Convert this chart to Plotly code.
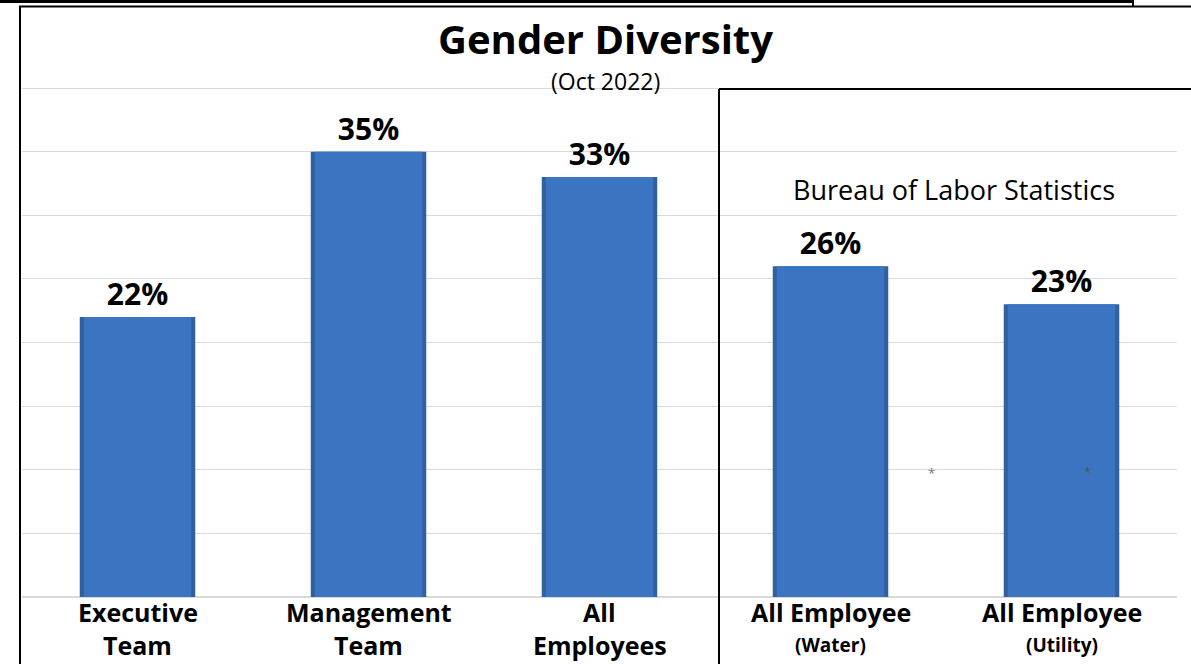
import plotly.graph_objects as go

categories = ["Executive Team", "Management Team", "All Employees", "All Employee (Water)", "All Employee (Utility)"]
values = [22, 35, 33, 26, 23]
label_line1 = ["Executive", "Management", "All", "All Employee", "All Employee"]
label_line2 = ["Team", "Team", "Employees", "(Water)", "(Utility)"]
line2_small = [False, False, False, True, True]
grid_values = [5, 10, 15, 20, 25, 30, 35, 40]

W, H = 1191, 664
L, R, T, B = 22, 14, 80, 67
BASE_Y, TOP_Y = 597, 88          # pixel rows of 0% and 40%
PW, PH = W - L - R, H - T - B
Y_TOP = 40 * PH / (BASE_Y - TOP_Y)


def px(x):
    return (x - L) / PW


def py(y):
    return (H - B - y) / PH


FONT = "Open Sans"

fig = go.Figure()
fig.add_trace(go.Bar(
    x=categories, y=values, width=0.5,
    marker=dict(color="#30609f", line=dict(width=0)),
    hoverinfo="skip", showlegend=False,
))
fig.add_trace(go.Bar(
    x=categories, y=values, width=0.465,
    marker=dict(color="#3b75c2", line=dict(width=0)),
    text=[f"{v}%" for v in values], textposition="outside",
    textfont=dict(family=FONT, size=30, color="black", weight="bold"),
    cliponaxis=False, showlegend=False,
))

lines = [
    # (x0, y0, x1, y1, width)
    (0, 1.5, 1133, 1.5, 3),
    (1133, 0, 1133, 6, 2),
    (19, 6.5, 1191, 6.5, 2),
    (20, 6, 20, 664, 2),
    (719, 89, 719, 664, 2),
    (719, 89, 1191, 89, 2),
]
shapes = [
    dict(type="line", xref="paper", yref="paper", x0=px(a), y0=py(b), x1=px(c), y1=py(d),
         line=dict(color="black", width=w), layer="above")
    for a, b, c, d, w in lines
]

annotations = [
    dict(text="<b>Gender Diversity</b>", x=px(605), y=py(39), xref="paper", yref="paper",
         showarrow=False, font=dict(family=FONT, size=40, color="black"),
         xanchor="center", yanchor="middle"),
    dict(text="(Oct 2022)", x=px(605), y=py(81), xref="paper", yref="paper",
         showarrow=False, font=dict(family=FONT, size=23, color="black"),
         xanchor="center", yanchor="middle"),
    dict(text="Bureau of Labor Statistics", x=px(954), y=py(189), xref="paper", yref="paper",
         showarrow=False, font=dict(family=FONT, size=27, color="black"),
         xanchor="center", yanchor="middle"),
    dict(text="*", x=px(931), y=py(473), xref="paper", yref="paper",
         showarrow=False, font=dict(family=FONT, size=13, color="#777777"),
         xanchor="center", yanchor="middle"),
    dict(text="*", x=px(1087), y=py(472), xref="paper", yref="paper",
         showarrow=False, font=dict(family=FONT, size=13, color="#555555"),
         xanchor="center", yanchor="middle"),
]
for c, l1, l2, small in zip(categories, label_line1, label_line2, line2_small):
    annotations.append(dict(
        text=l1, x=c, xref="x", y=py(612), yref="paper", showarrow=False,
        font=dict(family=FONT, size=25, color="black", weight="bold"),
        xanchor="center", yanchor="middle"))
    annotations.append(dict(
        text=l2, x=c, xref="x", y=py(645), yref="paper", showarrow=False,
        font=dict(family=FONT, size=19 if small else 25, color="black", weight="bold"),
        xanchor="center", yanchor="middle"))

fig.update_layout(
    width=W, height=H,
    margin=dict(l=L, r=R, t=T, b=B, pad=0),
    paper_bgcolor="white", plot_bgcolor="white",
    barmode="overlay",
    shapes=shapes, annotations=annotations,
    xaxis=dict(
        showticklabels=False,
        showgrid=False, showline=False, ticks="", zeroline=False,
    ),
    yaxis=dict(
        range=[0, Y_TOP], tickmode="array", tickvals=grid_values,
        showticklabels=False, ticks="",
        showgrid=True, gridcolor="#d9d9d9", gridwidth=1,
        zeroline=True, zerolinecolor="#d9d9d9", zerolinewidth=2, showline=False,
    ),
)

fig.write_html("out.html")
